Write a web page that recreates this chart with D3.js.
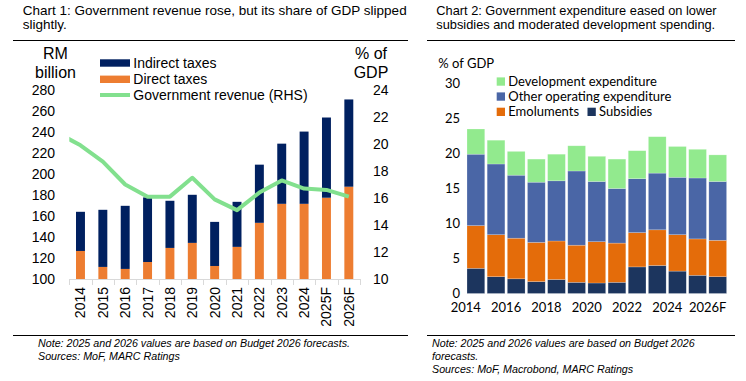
<!DOCTYPE html>
<html>
<head>
<meta charset="utf-8">
<script src="https://cdn.jsdelivr.net/npm/d3@7"></script>
<style>
  html, body { margin: 0; padding: 0; background: #ffffff; }
  svg { display: block; }
</style>
</head>
<body>
<svg id="chart" width="746" height="381"></svg>
<script>
// ---------- Chart 1 data ----------
const years = ["2014","2015","2016","2017","2018","2019","2020","2021","2022","2023","2024","2025F","2026F"];
const directTaxes   = [126.7,111.5,109.6,116.2,129.6,134.4,112.4,130.6,153.5,171.6,171.6,177.4,187.9];
const indirectTaxes = [37.3, 54.4, 60.1, 61.5, 44.9, 45.8, 42.0, 42.9, 55.4, 57.3, 68.8, 76.4, 83.1];
const revenueYears  = ["2013","2014","2015","2016","2017","2018","2019","2020","2021","2022","2023","2024","2025F","2026F"];
const revenueShare  = [20.8, 19.9, 18.7, 17.0, 16.1, 16.1, 17.5, 15.9, 15.1, 16.4, 17.3, 16.7, 16.6, 16.1];
const leftTicks  = [100,120,140,160,180,200,220,240,260,280];
const rightTicks = [10,12,14,16,18,20,22,24];

// ---------- Chart 2 data ----------
const expYears       = years;
const subsidies      = [3.6, 2.4, 2.1, 1.7, 2.0, 1.6, 1.5, 1.6, 3.8, 4.0, 3.2, 2.6, 2.4];
const emoluments     = [6.1, 6.0, 5.8, 5.6, 5.5, 5.3, 5.9, 5.6, 4.9, 5.1, 5.2, 5.2, 5.2];
const otherOperating = [10.2,10.1, 9.0, 8.6, 8.6,10.6, 8.6, 7.8, 7.7, 8.1, 8.2, 8.7, 8.4];
const development    = [3.6, 3.4, 3.4, 3.3, 3.8, 3.6, 3.6, 4.2, 4.0, 5.2, 4.4, 4.1, 3.8];
const expTicks       = [0,5,10,15,20,25,30];
const expLabels      = ["2014","2016","2018","2020","2022","2024","2026F"];

const svg = d3.select("#chart");
svg.append("rect").attr("width",746).attr("height",381).attr("fill","#fff");

const F1 = "'Liberation Sans', Arial, sans-serif";
const F2 = "Lato, 'Open Sans', sans-serif";

// ---------- Titles & rules ----------
const t1 = svg.append("text").attr("font-family",F1).attr("font-size",13.5).attr("fill","#000");
t1.append("tspan").attr("x",22.7).attr("y",14.5).text("Chart 1: Government revenue rose, but its share of GDP slipped");
t1.append("tspan").attr("x",22.7).attr("y",29).text("slightly.");
const t2 = svg.append("text").attr("font-family",F1).attr("font-size",12.8).attr("fill","#000");
t2.append("tspan").attr("x",436.3).attr("y",14.5).text("Chart 2: Government expenditure eased on lower");
t2.append("tspan").attr("x",436.3).attr("y",28.5).text("subsidies and moderated development spending.");

[[13,408],[427,735]].forEach(([a,b]) => {
  svg.append("line").attr("x1",a).attr("x2",b).attr("y1",40.5).attr("y2",40.5).attr("stroke","#000").attr("stroke-width",1);
  svg.append("line").attr("x1",a).attr("x2",b).attr("y1",335.5).attr("y2",335.5).attr("stroke","#000").attr("stroke-width",1);
});

// Notes
const n1 = svg.append("text").attr("font-family",F1).attr("font-size",10.7).attr("font-style","italic").attr("fill","#000");
n1.append("tspan").attr("x",38).attr("y",347).text("Note: 2025 and 2026 values are based on Budget 2026 forecasts.");
n1.append("tspan").attr("x",38).attr("y",360).text("Sources: MoF, MARC Ratings");
const n2 = svg.append("text").attr("font-family",F1).attr("font-size",10.7).attr("font-style","italic").attr("fill","#000");
n2.append("tspan").attr("x",432).attr("y",347).text("Note: 2025 and 2026 values are based on Budget 2026");
n2.append("tspan").attr("x",432).attr("y",360).text("forecasts.");
n2.append("tspan").attr("x",432).attr("y",373).text("Sources: MoF, Macrobond, MARC Ratings");

// ---------- Chart 1 ----------
const c1 = svg.append("g");
const x1 = d3.scaleBand().domain(years).range([69.3, 360]).paddingInner(0.6).paddingOuter(0.3);
const yL = d3.scaleLinear().domain([100,280]).range([279,90]);
const yR = d3.scaleLinear().domain([10,24]).range([279,90]);
const step1 = x1.step(), bw1 = x1.bandwidth();

const rows1 = years.map((y,i) => ({year:y, direct:directTaxes[i], indirect:indirectTaxes[i]}));
c1.selectAll(".direct").data(rows1).join("rect")
  .attr("x", d => x1(d.year)).attr("width", bw1)
  .attr("y", d => yL(d.direct)).attr("height", d => yL(100) - yL(d.direct))
  .attr("fill","#ED7D31");
c1.selectAll(".indirect").data(rows1).join("rect")
  .attr("x", d => x1(d.year)).attr("width", bw1)
  .attr("y", d => yL(d.direct + d.indirect)).attr("height", d => yL(d.direct) - yL(d.direct + d.indirect))
  .attr("fill","#002060");

c1.append("line").attr("x1",x1.range()[0]).attr("x2",x1.range()[1]).attr("y1",279.5).attr("y2",279.5)
  .attr("stroke","#D9D9D9").attr("stroke-width",1);
const bounds = years.map(y => x1(y) - (step1 - bw1)/2).concat([x1.range()[1]]);
c1.selectAll(".tk").data(bounds).join("line")
  .attr("x1", d => Math.round(d)+0.5).attr("x2", d => Math.round(d)+0.5)
  .attr("y1",279).attr("y2",285).attr("stroke","#D9D9D9");
c1.selectAll(".xl").data(years).join("text")
  .attr("transform", d => `translate(${x1(d)+bw1/2+5},287) rotate(-90)`)
  .attr("text-anchor","end").attr("font-family",F1).attr("font-size",14).attr("fill","#000")
  .text(d => d);

c1.selectAll(".yl").data(leftTicks).join("text")
  .attr("x",55).attr("y", d => yL(d)).attr("dy","0.35em").attr("text-anchor","end")
  .attr("font-family",F1).attr("font-size",14).attr("fill","#000").text(d => d);
c1.selectAll(".yr").data(rightTicks).join("text")
  .attr("x",373).attr("y", d => yR(d)).attr("dy","0.35em").attr("text-anchor","start")
  .attr("font-family",F1).attr("font-size",14).attr("fill","#000").text(d => d);

c1.append("text").attr("x",55.5).attr("y",59).attr("text-anchor","middle").attr("font-family",F1).attr("font-size",16).text("RM");
c1.append("text").attr("x",55.5).attr("y",78).attr("text-anchor","middle").attr("font-family",F1).attr("font-size",16).text("billion");
c1.append("text").attr("x",371).attr("y",59).attr("text-anchor","middle").attr("font-family",F1).attr("font-size",16).text("% of");
c1.append("text").attr("x",371).attr("y",78).attr("text-anchor","middle").attr("font-family",F1).attr("font-size",16).text("GDP");

svg.append("defs").append("clipPath").attr("id","plot1").append("rect")
  .attr("x",69.3).attr("y",80).attr("width",360-69.3).attr("height",199);
const lineX = i => x1(years[0]) + bw1/2 + (i-1)*step1;
const line = d3.line().x((d,i) => lineX(i)).y(d => yR(d));
c1.append("path").datum(revenueShare).attr("d", line).attr("clip-path","url(#plot1)")
  .attr("fill","none").attr("stroke","#82E08E").attr("stroke-width",4).attr("stroke-linejoin","round");

c1.append("rect").attr("x",100).attr("y",59.3).attr("width",30).attr("height",7.4).attr("fill","#002060");
c1.append("rect").attr("x",100).attr("y",75.6).attr("width",30).attr("height",7.4).attr("fill","#ED7D31");
c1.append("line").attr("x1",100).attr("x2",130).attr("y1",95).attr("y2",95).attr("stroke","#82E08E").attr("stroke-width",4);
[["Indirect taxes",67.7],["Direct taxes",84],["Government revenue (RHS)",100.4]].forEach(([t,y]) => {
  c1.append("text").attr("x",133.3).attr("y",y).attr("font-family",F1).attr("font-size",14).attr("fill","#000").text(t);
});

// ---------- Chart 2 ----------
const c2 = svg.append("g");
const x2 = d3.scaleBand().domain(expYears).range([465.8, 727.8]).paddingInner(0.12).paddingOuter(0.06);
const y2 = d3.scaleLinear().domain([0,30]).range([293.5,83.5]);
const keys = ["subsidies","emoluments","other","development"];
const colors = {subsidies:"#1C355E", emoluments:"#E46C0A", other:"#4A66A6", development:"#92EA8E"};
const rows2 = expYears.map((y,i) => ({year:y, subsidies:subsidies[i], emoluments:emoluments[i], other:otherOperating[i], development:development[i]}));
const stacked = d3.stack().keys(keys)(rows2);
c2.selectAll(".layer").data(stacked).join("g").attr("fill", d => colors[d.key])
  .selectAll("rect").data(d => d).join("rect")
  .attr("x", d => x2(d.data.year)).attr("width", x2.bandwidth())
  .attr("y", d => y2(d[1])).attr("height", d => y2(d[0]) - y2(d[1]))
  .attr("stroke","#ffffff").attr("stroke-opacity",0.35).attr("stroke-width",0.6);

c2.selectAll(".y2l").data(expTicks).join("text")
  .attr("x",460).attr("y", d => y2(d)).attr("dy","0.34em").attr("text-anchor","end")
  .attr("font-family",F2).attr("font-size",13).attr("fill","#000").text(d => d);
const half = (x2.step() - x2.bandwidth())/2;
c2.selectAll(".x2l").data(expLabels).join("text")
  .attr("x", d => x2(d) - half).attr("y",312).attr("text-anchor","middle")
  .attr("font-family",F2).attr("font-size",13).attr("fill","#000").text(d => d);
c2.append("text").attr("x",438.3).attr("y",68).attr("font-family",F2).attr("font-size",13).attr("fill","#000").text("% of GDP");

const leg2 = [
  {k:"development", t:"Development expenditure", x:496.7, y:77.4},
  {k:"other", t:"Other operating expenditure", x:496.7, y:92.4},
  {k:"emoluments", t:"Emoluments", x:496.7, y:107.7},
  {k:"subsidies", t:"Subsidies", x:587.5, y:107.7}
];
leg2.forEach(d => {
  c2.append("rect").attr("x",d.x).attr("y",d.y).attr("width",8.3).attr("height",8.3).attr("fill",colors[d.k]);
  c2.append("text").attr("x",d.x+11.6).attr("y",d.y+8.6).attr("font-family",F2).attr("font-size",13).attr("fill","#000").text(d.t);
});
</script>
</body>
</html>
